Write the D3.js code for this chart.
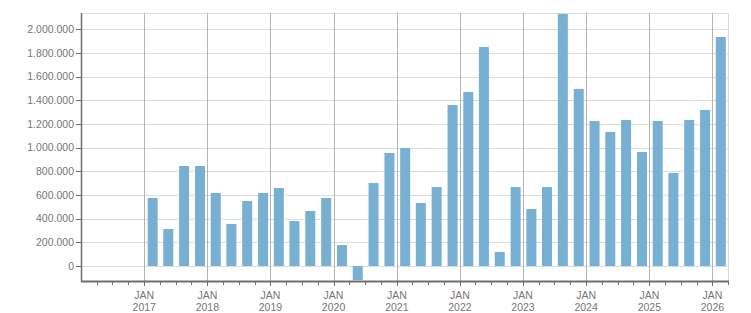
<!DOCTYPE html>
<html><head><meta charset="utf-8">
<script src="https://cdn.jsdelivr.net/npm/d3@7"></script>
<style>body{margin:0;background:#fff}svg{display:block}text{font-family:"Liberation Sans",Arial,sans-serif;font-size:10.5px;fill:#767676}</style>
</head><body><svg id="c" width="751" height="313"></svg>
<script>
const quarters = ["2017-01","2017-04","2017-07","2017-10","2018-01","2018-04","2018-07","2018-10",
"2019-01","2019-04","2019-07","2019-10","2020-01","2020-04","2020-07","2020-10",
"2021-01","2021-04","2021-07","2021-10","2022-01","2022-04","2022-07","2022-10",
"2023-01","2023-04","2023-07","2023-10","2024-01","2024-04","2024-07","2024-10",
"2025-01","2025-04","2025-07","2025-10","2026-01"];
const values = [575000,313000,845000,845000,617000,355000,549000,617000,
659000,380000,465000,575000,177000,-118000,701000,955000,
997000,532000,667000,1360000,1470000,1850000,118000,667000,
482000,667000,2130000,1496000,1225000,1132000,1234000,963000,
1225000,786000,1234000,1318000,1935000];
const yTicks = [0,200000,400000,600000,800000,1000000,1200000,1400000,1600000,1800000,2000000];
const yearTicks = [2017,2018,2019,2020,2021,2022,2023,2024,2025,2026];

const svg = d3.select("#c");
const L=81, R=728, T=13, B=281;
const parse = d3.timeParse("%Y-%m");
const x = d3.scaleTime().domain([new Date(2016,0,1), new Date(2026,3,1)]).range([L,R]);
const y = d3.scaleLinear().domain([-126700, 2137700]).range([B,T]);
const fmt = v => d3.format(",")(v).replace(/,/g,".");

// horizontal grid
svg.append("g").selectAll("line").data(yTicks).join("line")
  .attr("x1",L).attr("x2",R).attr("y1",d=>Math.round(y(d))+0.5).attr("y2",d=>Math.round(y(d))+0.5)
  .attr("stroke","#dcdcdc");
// top & right border
svg.append("line").attr("x1",L).attr("x2",R).attr("y1",T+0.5).attr("y2",T+0.5).attr("stroke","#dcdcdc");
svg.append("line").attr("x1",R+0.5).attr("x2",R+0.5).attr("y1",T).attr("y2",B).attr("stroke","#dcdcdc");
// vertical grid at Jan
svg.append("g").selectAll("line").data(yearTicks).join("line")
  .attr("x1",d=>Math.round(x(new Date(d,0,1)))+0.5).attr("x2",d=>Math.round(x(new Date(d,0,1)))+0.5)
  .attr("y1",T).attr("y2",B).attr("stroke","#b4b4b4");

// bars
const bw = 10;
svg.append("g").selectAll("rect").data(quarters).join("rect")
  .attr("x",(q,i)=>{const d=parse(q);const e=d3.timeMonth.offset(d,3);return (x(d)+x(e))/2 - bw/2 + 0.6;})
  .attr("width",bw)
  .attr("y",(q,i)=>y(Math.max(0,values[i])))
  .attr("height",(q,i)=>Math.abs(y(values[i])-y(0)))
  .attr("fill","#77b0d2");

// left axis
svg.append("line").attr("x1",L+0.5).attr("x2",L+0.5).attr("y1",T).attr("y2",B+1).attr("stroke","#6e6e6e").attr("stroke-width",1.5);
const yl = svg.append("g");
yl.selectAll("line").data(yTicks).join("line")
  .attr("x1",L-5).attr("x2",L).attr("y1",d=>Math.round(y(d))+0.5).attr("y2",d=>Math.round(y(d))+0.5).attr("stroke","#6e6e6e");
yl.selectAll("text").data(yTicks).join("text")
  .attr("x",L-7).attr("y",d=>y(d)).attr("dy","0.35em").attr("text-anchor","end").text(fmt);

// bottom axis
svg.append("line").attr("x1",L).attr("x2",R+1).attr("y1",B+0.5).attr("y2",B+0.5).attr("stroke","#6e6e6e").attr("stroke-width",2);
const qTicks = d3.timeMonth.every(3).range(new Date(2016,3,1), new Date(2026,3,2));
svg.append("g").selectAll("line").data(qTicks).join("line")
  .attr("x1",d=>Math.round(x(d))+0.5).attr("x2",d=>Math.round(x(d))+0.5)
  .attr("y1",B+1).attr("y2",d=>d.getMonth()===0?B+5:B+4).attr("stroke","#6e6e6e");
const xl = svg.append("g").selectAll("text").data(yearTicks).join("text")
  .attr("x",d=>x(new Date(d,0,1))).attr("text-anchor","middle");
xl.append("tspan").attr("x",d=>x(new Date(d,0,1))).attr("y",299).text("JAN");
xl.append("tspan").attr("x",d=>x(new Date(d,0,1))).attr("y",310.5).text(d=>d);
</script></body></html>
